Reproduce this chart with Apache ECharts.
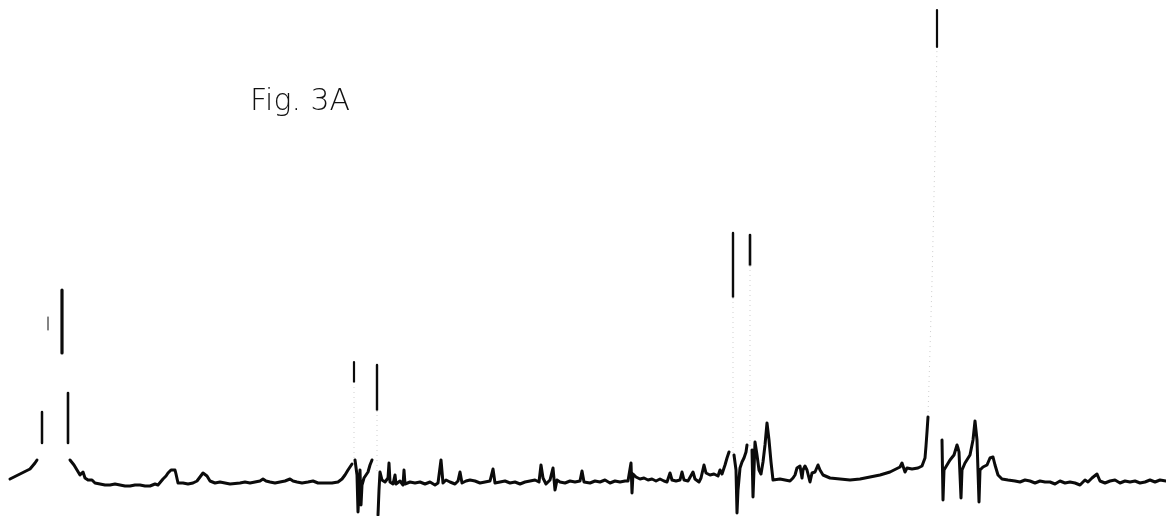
<!DOCTYPE html>
<html>
<head>
<meta charset="utf-8">
<title>Fig. 3A</title>
<script src="https://cdn.jsdelivr.net/npm/echarts@6/dist/echarts.min.js"></script>
<style>
  html, body { margin: 0; padding: 0; background: #ffffff; }
  #chart { width: 1166px; height: 516px; }
</style>
</head>
<body>
<div id="chart"></div>
<script>
// Recorder trace, x = chart position, y = signal above baseline (arbitrary units).
// The trace is split where the pen moved too fast to leave a solid line.
const traceLeadIn = [[10,3],[14,5],[20,8],[26,11],[30,13],[35,19],[37,22]];

const traceLowField = [[70,22],[72,20],[74,17],[77,12],[80,7],[83,10],[85,4],[88,2],[92,2],[95,-1],[100,-2],[105,-3],[110,-3],[115,-2],[120,-3],[125,-4],[130,-4],[135,-3],[140,-3],[145,-4],[150,-4],[155,-2],[158,-3],[160,-1],[163,3],[166,6],[168,9],[171,12],[173,14],[175,12],[176,8],[178,-1],[183,-1],[188,-2],[193,-1],[197,1],[200,5],[203,9],[205,10],[207,6],[210,1],[215,-1],[220,0],[225,-1],[230,-2],[240,-1],[245,0],[250,-1],[255,0],[260,1],[263,3],[266,1],[270,0],[275,-1],[280,0],[285,1],[290,3],[293,1],[297,0],[302,-1],[308,0],[313,1],[318,-1],[325,-1],[332,-1],[338,0],[342,3],[345,7],[348,12],[350,14],[352,18]];

const traceDoublet1 = [[355,22],[357,7],[358,-30],[359,-8],[360,12],[361,-23],[362,-3],[364,4],[366,2],[368,10],[370,17],[372,22]];

const traceMidField = [[378,-33],[379,-8],[380,10],[382,2],[385,0],[388,4],[389,19],[390,0],[393,-2],[395,7],[396,-2],[400,1],[403,-3],[404,12],[405,-2],[410,0],[415,-1],[420,0],[425,-2],[430,0],[435,-3],[438,-1],[441,22],[443,-1],[446,2],[450,0],[455,-2],[458,1],[460,10],[462,-1],[466,1],[470,2],[475,1],[480,-1],[485,0],[490,1],[493,13],[495,-1],[500,0],[505,1],[510,-1],[515,0],[520,-2],[525,0],[530,1],[535,2],[539,0],[541,17],[543,4],[546,-2],[550,2],[553,14],[555,-8],[557,2],[560,0],[565,-1],[570,1],[575,0],[580,1],[582,11],[584,0],[590,-1],[595,1],[600,0],[605,2],[610,-1],[615,1],[620,0],[625,1],[628,1],[631,19],[632,-11],[633,8],[636,5],[640,3],[644,4],[648,2],[652,3],[656,1],[660,3],[664,1],[667,0],[670,9],[672,2],[676,1],[680,2],[682,10],[684,2],[688,1],[690,3],[693,10],[695,3],[699,0],[701,4],[704,17],[706,9],[710,7],[714,8],[718,6],[720,12],[722,8],[725,17],[727,24],[729,30]];

const traceDoublet2 = [[734,27],[736,12],[737,-31],[738,-8],[740,14],[742,20],[744,24],[746,30],[747,37]];

const traceHighField = [[752,32],[753,-15],[754,12],[755,40],[757,27],[759,12],[761,8],[763,20],[765,37],[767,59],[769,42],[771,20],[773,2],[775,2],[780,3],[785,2],[790,1],[793,4],[795,7],[797,14],[800,16],[802,4],[803,12],[805,16],[807,12],[810,0],[812,9],[815,10],[818,17],[820,12],[823,7],[830,4],[840,3],[850,2],[860,3],[870,5],[880,7],[890,10],[900,15],[902,19],[905,10],[907,14],[912,13],[918,14],[922,16],[925,24],[926,36],[927,50],[928,65]];

const traceTail = [[942,42],[943,-18],[944,12],[946,14],[950,22],[954,27],[957,37],[958,34],[959,30],[961,-16],[962,12],[965,19],[970,27],[973,42],[975,61],[977,42],[979,-20],[980,12],[983,15],[987,17],[990,24],[993,25],[995,17],[998,7],[1002,3],[1008,2],[1015,1],[1020,0],[1025,2],[1030,1],[1035,-1],[1040,1],[1045,0],[1050,0],[1055,-2],[1060,1],[1065,-1],[1070,0],[1075,-1],[1080,-3],[1085,2],[1088,0],[1092,4],[1097,8],[1100,1],[1105,-1],[1110,1],[1115,2],[1120,-1],[1125,1],[1130,0],[1135,1],[1140,-1],[1145,0],[1150,2],[1155,0],[1160,2],[1166,1]];

// Off-scale peak tops where the pen lingered: [x, top, bottom, pen width]
const peakTops = [
  [42, 70, 39, 2.5],
  [48, 165, 152, 1],
  [62, 192, 129, 3.2],
  [68, 89, 39, 2.6],
  [354, 120, 100, 2.2],
  [377, 117, 72, 2.4],
  [733, 249, 185, 2.4],
  [750, 247, 217, 2.6],
  [937, 472, 435, 2.2]
];

// Faint fast-moving pen strokes joining the trace to the peak tops
const fastStrokes = [
  [[354,100],[354,22]],
  [[377,72],[377,10]],
  [[733,185],[733,27]],
  [[750,217],[750,32]],
  [[928,65],[932,200],[935,330],[937,435]]
];

const segments = [traceLeadIn, traceLowField, traceDoublet1, traceMidField, traceDoublet2, traceHighField, traceTail];

const INK = '#0b0b0b';

const series = [];
fastStrokes.forEach(function (pts) {
  series.push({
    type: 'line', data: pts, showSymbol: false, silent: true, animation: false,
    lineStyle: { color: '#cfcfcf', width: 1, type: [1, 4] }
  });
});
segments.forEach(function (pts) {
  series.push({
    type: 'line', data: pts, showSymbol: false, silent: true, animation: false,
    lineStyle: { color: INK, width: 3, join: 'round', cap: 'round' }
  });
});
series.push({
  type: 'custom', data: peakTops, silent: true, animation: false,
  renderItem: function (params, api) {
    const x = api.value(0);
    const a = api.coord([x, api.value(1)]);
    const b = api.coord([x, api.value(2)]);
    return {
      type: 'line',
      shape: { x1: a[0], y1: a[1], x2: b[0], y2: b[1] },
      style: { stroke: INK, lineWidth: api.value(3), lineCap: 'round' }
    };
  },
  encode: { x: 0, y: [1, 2] }
});

const chart = echarts.init(document.getElementById('chart'), null, { renderer: 'canvas' });
chart.setOption({
  backgroundColor: '#ffffff',
  animation: false,
  title: {
    text: 'Fig. 3A',
    left: 245,
    top: 82,
    textStyle: { fontFamily: 'DejaVu Sans', fontWeight: 300, fontSize: 30, color: '#111' }
  },
  grid: { left: 0, right: 0, top: 0, bottom: 0 },
  xAxis: { type: 'value', min: 0, max: 1166, show: false },
  yAxis: { type: 'value', min: -34, max: 482, show: false },
  series: series
});
</script>
</body>
</html>
